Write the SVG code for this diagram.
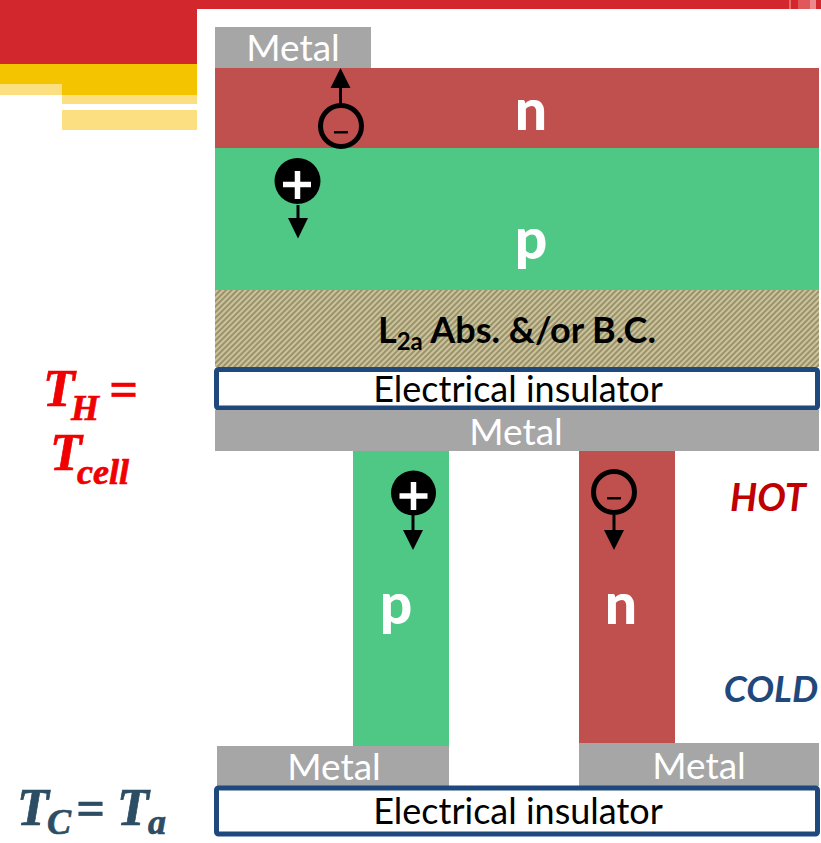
<svg xmlns="http://www.w3.org/2000/svg" width="821" height="843" viewBox="0 0 821 843">
<style>
.lbl{font-family:"Lato","Liberation Sans",sans-serif}
.metal{fill:#a6a6a6}
.mt{font-size:37px;fill:#fff;text-anchor:middle;font-family:"Lato","Liberation Sans",sans-serif}
.big{font-size:57px;font-weight:900;fill:#fff;text-anchor:middle;font-family:"Lato","Liberation Sans",sans-serif}
.ins{fill:#fff;stroke:#1f497d;stroke-width:5;stroke-linejoin:round}
.it{font-size:36px;fill:#000;text-anchor:middle;font-family:"Lato","Liberation Sans",sans-serif}
.math{font-family:"Liberation Serif",serif;font-weight:700;font-style:italic;stroke-width:.7}
.k{stroke:#000;stroke-width:3;fill:none}
.ah{fill:#000}
</style>
<defs>
<pattern id="hatch" width="4" height="4" patternUnits="userSpaceOnUse" patternTransform="rotate(-45)">
<rect width="4" height="4" fill="#cdc29a"/>
<rect width="4" height="2" fill="#98936c"/>
</pattern>
</defs>
<g id="background">
<rect x="0" y="0" width="821" height="843" fill="#fff"/>
<rect x="0" y="0" width="821" height="9" fill="#d2282d"/>
<rect x="789" y="0" width="2" height="9" fill="#e56a6c"/>
<rect x="798" y="0" width="12" height="9" fill="#e0585b"/>
<rect x="810" y="0" width="6" height="9" fill="#ea8a8c"/>
<rect x="0" y="0" width="197" height="64" fill="#d2282d"/>
<rect x="0" y="64" width="197" height="20" fill="#f5c400"/>
<rect x="62" y="84" width="135" height="11" fill="#f5c400"/>
<rect x="0" y="84" width="62" height="11" fill="#fbdf80"/>
<rect x="62" y="95" width="135" height="9" fill="#fbdf80"/>
<rect x="62" y="110" width="135" height="20" fill="#fbdf80"/>
</g>
<g id="metal-top"><rect class="metal" x="215" y="27" width="156" height="41"/><text class="mt" x="293" y="61">Metal</text></g>
<g id="n-layer"><rect x="215" y="68" width="604" height="80" fill="#c0504d"/><text class="big" x="531" y="130">n</text></g>
<g id="p-layer"><rect x="215" y="148" width="604" height="142" fill="#4fc785"/><text class="big" x="531" y="259">p</text></g>
<g id="absorber"><rect x="215" y="290" width="604" height="77" fill="url(#hatch)"/>
<text class="lbl" x="517" y="343" font-size="36" font-weight="700" text-anchor="middle" fill="#000">L<tspan font-size="24" dy="7">2a</tspan><tspan dy="-7"> Abs. &amp;/or B.C.</tspan></text></g>
<g id="insulator-top"><rect class="ins" x="216.500" y="369.500" width="601" height="38.500" rx="2"/><text class="it" x="518" y="402">Electrical insulator</text></g>
<g id="metal-mid"><rect class="metal" x="215" y="410" width="604" height="41"/><text class="mt" x="516" y="445">Metal</text></g>
<g id="p-leg"><rect x="353" y="451" width="96" height="295" fill="#4fc785"/><text class="big" x="396" y="624">p</text></g>
<g id="n-leg"><rect x="579" y="451" width="96" height="292" fill="#c0504d"/><text class="big" x="621" y="624">n</text></g>
<g id="metal-bl"><rect class="metal" x="217" y="746" width="232" height="40"/><text class="mt" x="334" y="780">Metal</text></g>
<g id="metal-br"><rect class="metal" x="579" y="743" width="240" height="43"/><text class="mt" x="699" y="779">Metal</text></g>
<g id="insulator-bottom"><rect class="ins" x="216.500" y="788" width="601" height="46" rx="2"/><text class="it" x="518" y="824">Electrical insulator</text></g>
<g id="connectors">
<path class="k" d="M340.500 105V86"/><path class="ah" d="M340.500 68L350.500 88H330.500Z"/>
<path class="k" d="M298 205V220"/><path class="ah" d="M298 238.500L288 218H308Z"/>
<path class="k" d="M413 515V532"/><path class="ah" d="M413 550L403 530H423Z"/>
<path class="k" d="M614 515V532"/><path class="ah" d="M614 550L604 530H624Z"/>
</g>
<g id="charge-minus-top"><circle cx="341" cy="126" r="20.500" fill="none" stroke="#000" stroke-width="5"/><rect x="334" y="131" width="14" height="2.500" fill="#000"/></g>
<g id="charge-plus-top"><circle cx="297.500" cy="181" r="23" fill="#000"/><path d="M283 184.500H311M297.500 171V199" stroke="#fff" stroke-width="5.500" fill="none"/></g>
<g id="charge-plus-leg"><circle cx="413.500" cy="493" r="22.500" fill="#000"/><path d="M399.500 496H427.500M413.500 482V510" stroke="#fff" stroke-width="5.500" fill="none"/></g>
<g id="charge-minus-leg"><circle cx="614" cy="492" r="20.500" fill="none" stroke="#000" stroke-width="5"/><rect x="607" y="497" width="14" height="2.500" fill="#000"/></g>
<g id="hot"><text class="lbl" x="768" y="511" font-size="38" font-weight="700" font-style="italic" fill="#c00000" text-anchor="middle">HOT</text></g>
<g id="cold"><text class="lbl" x="771" y="702" font-size="37" font-weight="700" font-style="italic" fill="#1f497d" text-anchor="middle">COLD</text></g>
<g id="t-h"><text class="math" x="43" y="406" font-size="52" fill="#f00000" stroke="#f00000">T<tspan x="71" font-size="36" dy="14">H</tspan><tspan x="109" dy="-14" font-size="50">=</tspan></text>
<text class="math" x="50" y="470" font-size="52" fill="#f00000" stroke="#f00000">T<tspan x="77" font-size="36" dy="14">cell</tspan></text></g>
<g id="t-c"><text class="math" x="17" y="825" font-size="52" fill="#2c4d63" stroke="#2c4d63">T<tspan x="47" font-size="36" dy="9">C</tspan><tspan x="76" dy="-9" font-size="50">=</tspan><tspan x="117" font-size="52">T</tspan><tspan x="148" font-size="36" dy="9">a</tspan></text></g>
</svg>
